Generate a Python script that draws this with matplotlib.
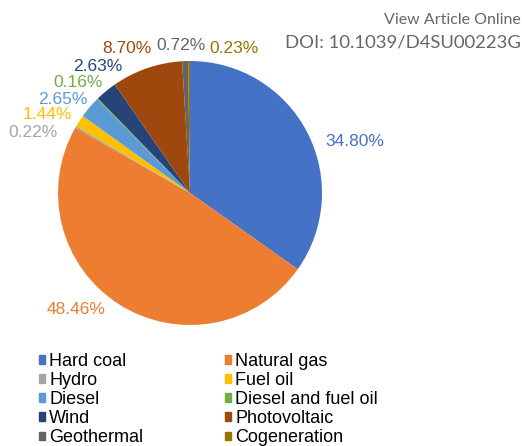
import matplotlib
matplotlib.use("Agg")
import matplotlib.pyplot as plt
import matplotlib.patches as mpatches

# electricity generation share by source
sources = ["Hard coal", "Natural gas", "Hydro", "Fuel oil", "Diesel",
           "Diesel and fuel oil", "Wind", "Photovoltaic", "Geothermal",
           "Cogeneration"]
shares = [34.80, 48.46, 0.22, 1.44, 2.65, 0.16, 2.63, 8.70, 0.72, 0.23]
colors = ["#4472C4", "#ED7D31", "#A5A5A5", "#FFC000", "#5B9BD5",
          "#70AD47", "#264478", "#9E480E", "#636363", "#997300"]

# label centres (data units, pie radius = 1), hand placed like in Excel
label_pos = [(1.25, 0.39), (-0.86, -0.88), (-1.19, 0.46), (-1.08, 0.595),
             (-0.96, 0.71), (-0.85, 0.84), (-0.70, 0.96), (-0.475, 1.095),
             (-0.07, 1.115), (0.33, 1.095)]

plt.rcParams['font.family'] = ['Liberation Sans', 'DejaVu Sans']

fig = plt.figure(figsize=(5.25, 4.46), dpi=100)
ax = fig.add_axes([0, 0, 1, 1])
ax.axis('off')

ax.pie(shares, colors=colors, startangle=90, counterclock=False,
       radius=1, center=(0, 0), normalize=True)

for s, c, (lx, ly) in zip(shares, colors, label_pos):
    ax.text(lx, ly, f"{s:.2f}%", color=c, fontsize=12.5,
            ha='center', va='center')

# pixel mapping: centre at (190, 193) px, radius 132 px
ax.set_xlim(-190/132, (525-190)/132)
ax.set_ylim(-(446-193)/132, 193/132)
ax.set_aspect('equal')

# header text
fig.text(521/525, 1-20/446, "View Article Online", ha='right', va='center',
         fontsize=11.5, color='#666666', family='Lato')
fig.text(521/525, 1-43/446, "DOI: 10.1039/D4SU00223G", ha='right', va='center',
         fontsize=13.3, color='#666666', family='Lato')

# legend, row-wise order in two columns
handles = [mpatches.Patch(color=c, label=s) for s, c in zip(sources, colors)]
order = [0, 2, 4, 6, 8, 1, 3, 5, 7, 9]
leg = fig.legend([handles[i] for i in order], [sources[i] for i in order],
                 ncol=2, loc='upper left', bbox_to_anchor=(39/525, 1-353/446),
                 frameon=False, fontsize=13, handlelength=0.35,
                 handleheight=0.35, handletextpad=0.22, labelspacing=0.115,
                 columnspacing=4.52, borderpad=0, borderaxespad=0)

fig.savefig("out.png", dpi=100)
